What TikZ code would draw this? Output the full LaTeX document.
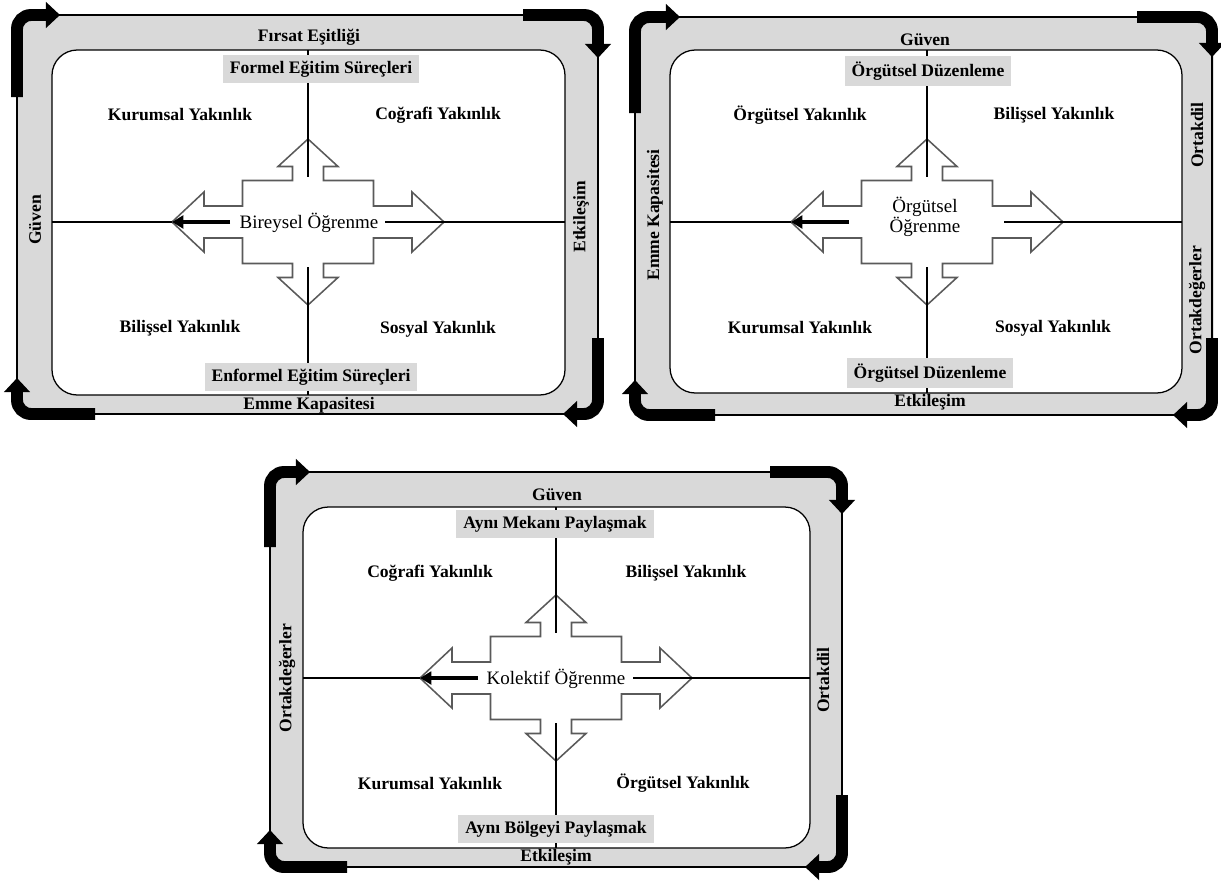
\documentclass[tikz,border=0pt]{standalone}
\usepackage{fontspec}
\setmainfont{Liberation Serif}
\usetikzlibrary{arrows.meta}

\definecolor{bandgray}{HTML}{D9D9D9}
\definecolor{crossgray}{HTML}{5A5A5A}

\tikzset{
  framebox/.style={draw=black, line width=1.4pt, fill=bandgray, rounded corners=7pt},
  innerbox/.style={draw=black, line width=0.9pt, fill=white, rounded corners=18pt},
  axisline/.style={draw=black, line width=0.9pt},
  crossline/.style={draw=crossgray, line width=1.1pt, fill=white, line join=miter},
  flowarrow/.style={line width=8.5pt, rounded corners=10pt, -{Triangle[length=10pt,width=18pt]}},
  pointer/.style={line width=3pt, -{Triangle[length=8pt,width=9pt]}},
  lbl/.style={font=\fontsize{12.5}{14}\selectfont\bfseries, inner sep=1pt},
  sidelbl/.style={lbl, rotate=90},
  tagbox/.style={lbl, fill=bandgray, inner xsep=5pt, inner ysep=4pt},
  core/.style={font=\fontsize{13.5}{14}\selectfont, align=center, inner sep=1pt},
}

% Four-way outlined arrow with the axis lines and the black pointer.
% #1 prefix, #2 #3 centre, #4 #5 #6 #7 inner box corners
\newcommand{\crossquad}[7]{%
  \coordinate (#1-c) at (#2,#3);
  \coordinate (#1-n) at (#2,#5);
  \coordinate (#1-s) at (#2,#7);
  \coordinate (#1-w) at (#4,#3);
  \coordinate (#1-e) at (#6,#3);
  \begin{scope}[shift={(#1-c)}]
    \draw[crossline] (0,-83) -- (-30,-55.5) -- (-15.5,-55.5) -- (-15.5,-41.5)
      -- (-65.5,-41.5) -- (-65.5,-16) -- (-104,-16) -- (-104,-30) -- (-136,0)
      -- (-104,30) -- (-104,16) -- (-65.5,16) -- (-65.5,41.5) -- (-15.5,41.5)
      -- (-15.5,55.5) -- (-30,55.5) -- (0,83) -- (30,55.5) -- (15.5,55.5)
      -- (15.5,41.5) -- (65.5,41.5) -- (65.5,16) -- (104,16) -- (104,30)
      -- (136,0) -- (104,-30) -- (104,-16) -- (65.5,-16) -- (65.5,-41.5)
      -- (15.5,-41.5) -- (15.5,-55.5) -- (30,-55.5) -- cycle;
    \coordinate (#1-nend) at (0,-45);
    \coordinate (#1-send) at (0,45);
    \coordinate (#1-wend) at (-136,0);
    \coordinate (#1-tail) at (-78,0);
    \coordinate (#1-eend) at (77,0);
  \end{scope}
  \draw[axisline] (#1-n) -- (#1-nend);
  \draw[axisline] (#1-send) -- (#1-s);
  \draw[axisline] (#1-w) -- (#1-wend);
  \draw[axisline] (#1-eend) -- (#1-e);
  \draw[pointer] (#1-tail) -- (#1-wend);
}

\begin{document}
\begin{tikzpicture}[x=0.025cm, y=-0.025cm]
\useasboundingbox (0,0) rectangle (1221,882);

% ---------- Panel A: Bireysel Öğrenme ----------
\draw[framebox] (17,15) rectangle (598,414);
\draw[innerbox] (52,50) rectangle (565,395);
\crossquad{A}{308}{222}{52}{50}{565}{395}
\coordinate (A-f1a) at (17,97);  \coordinate (A-f1b) at (17,15);  \coordinate (A-f1c) at (60,15);
\coordinate (A-f2a) at (523,15); \coordinate (A-f2b) at (598,15); \coordinate (A-f2c) at (598,58);
\coordinate (A-f3a) at (598,338); \coordinate (A-f3b) at (598,414); \coordinate (A-f3c) at (563,414);
\coordinate (A-f4a) at (95,414); \coordinate (A-f4b) at (17,414); \coordinate (A-f4c) at (17,378);
\draw[flowarrow] (A-f1a) -- (A-f1b) -- (A-f1c);
\draw[flowarrow] (A-f2a) -- (A-f2b) -- (A-f2c);
\draw[flowarrow] (A-f3a) -- (A-f3b) -- (A-f3c);
\draw[flowarrow] (A-f4a) -- (A-f4b) -- (A-f4c);
\node[lbl] (A-top) at (309,37) {Fırsat Eşitliği};
\node[tagbox] (A-tagn) at (321,69) {Formel Eğitim Süreçleri};
\node[lbl] (A-q1) at (180,115) {Kurumsal Yakınlık};
\node[lbl] (A-q2) at (438,115) {Coğrafi Yakınlık};
\node[lbl] (A-q3) at (180,328) {Bilişsel Yakınlık};
\node[lbl] (A-q4) at (438,329) {Sosyal Yakınlık};
\node[tagbox] (A-tags) at (311,377) {Enformel Eğitim Süreçleri};
\node[lbl] (A-bot) at (309,405) {Emme Kapasitesi};
\node[sidelbl] (A-left) at (35,220) {Güven};
\node[sidelbl] (A-right) at (581,217) {Etkileşim};
\node[core, fill=white] (A-core) at (309,223) {Bireysel Öğrenme};

% ---------- Panel B: Örgütsel Öğrenme ----------
\draw[framebox] (635,17) rectangle (1212,415);
\draw[innerbox] (670,50) rectangle (1182,393);
\crossquad{B}{927}{222}{670}{50}{1182}{393}
\coordinate (B-f1a) at (635,113);  \coordinate (B-f1b) at (635,17);  \coordinate (B-f1c) at (680,17);
\coordinate (B-f2a) at (1137,17); \coordinate (B-f2b) at (1212,17); \coordinate (B-f2c) at (1212,57);
\coordinate (B-f3a) at (1212,338); \coordinate (B-f3b) at (1212,415); \coordinate (B-f3c) at (1173,415);
\coordinate (B-f4a) at (715,415); \coordinate (B-f4b) at (635,415); \coordinate (B-f4c) at (635,380);
\draw[flowarrow] (B-f1a) -- (B-f1b) -- (B-f1c);
\draw[flowarrow] (B-f2a) -- (B-f2b) -- (B-f2c);
\draw[flowarrow] (B-f3a) -- (B-f3b) -- (B-f3c);
\draw[flowarrow] (B-f4a) -- (B-f4b) -- (B-f4c);
\node[lbl] (B-top) at (925,40) {Güven};
\node[tagbox] (B-tagn) at (928,71) {Örgütsel Düzenleme};
\node[lbl] (B-q1) at (800,115) {Örgütsel Yakınlık};
\node[lbl] (B-q2) at (1054,115) {Bilişsel Yakınlık};
\node[lbl] (B-q3) at (800,328) {Kurumsal Yakınlık};
\node[lbl] (B-q4) at (1053,328) {Sosyal Yakınlık};
\node[tagbox] (B-tags) at (930,373) {Örgütsel Düzenleme};
\node[lbl] (B-bot) at (930,402) {Etkileşim};
\node[sidelbl] (B-left) at (655,215) {Emme Kapasitesi};
\node[sidelbl] (B-right1) at (1197,135) {Ortakdil};
\node[sidelbl] (B-right2) at (1197,300) {Ortakdeğerler};
\node[core, fill=white] (B-core) at (925,217) {Örgütsel\\Öğrenme};

% ---------- Panel C: Kolektif Öğrenme ----------
\draw[framebox] (270,472) rectangle (842,867);
\draw[innerbox] (303,507) rectangle (810,848);
\crossquad{C}{556}{678}{303}{507}{810}{848}
\coordinate (C-f1a) at (270,547);  \coordinate (C-f1b) at (270,472);  \coordinate (C-f1c) at (310,472);
\coordinate (C-f2a) at (770,472); \coordinate (C-f2b) at (842,472); \coordinate (C-f2c) at (842,514);
\coordinate (C-f3a) at (842,795); \coordinate (C-f3b) at (842,867); \coordinate (C-f3c) at (805,867);
\coordinate (C-f4a) at (347,867); \coordinate (C-f4b) at (270,867); \coordinate (C-f4c) at (270,830);
\draw[flowarrow] (C-f1a) -- (C-f1b) -- (C-f1c);
\draw[flowarrow] (C-f2a) -- (C-f2b) -- (C-f2c);
\draw[flowarrow] (C-f3a) -- (C-f3b) -- (C-f3c);
\draw[flowarrow] (C-f4a) -- (C-f4b) -- (C-f4c);
\node[lbl] (C-top) at (557,495) {Güven};
\node[tagbox] (C-tagn) at (555,524) {Aynı Mekanı Paylaşmak};
\node[lbl] (C-q1) at (430,573) {Coğrafi Yakınlık};
\node[lbl] (C-q2) at (686,573) {Bilişsel Yakınlık};
\node[lbl] (C-q3) at (430,783) {Kurumsal Yakınlık};
\node[lbl] (C-q4) at (683,783) {Örgütsel Yakınlık};
\node[tagbox] (C-tags) at (556,829) {Aynı Bölgeyi Paylaşmak};
\node[lbl] (C-bot) at (556,857) {Etkileşim};
\node[sidelbl] (C-left) at (287,678) {Ortakdeğerler};
\node[sidelbl] (C-right) at (823,680) {Ortakdil};
\node[core, fill=white] (C-core) at (556,679) {Kolektif Öğrenme};
\end{tikzpicture}
\end{document}
